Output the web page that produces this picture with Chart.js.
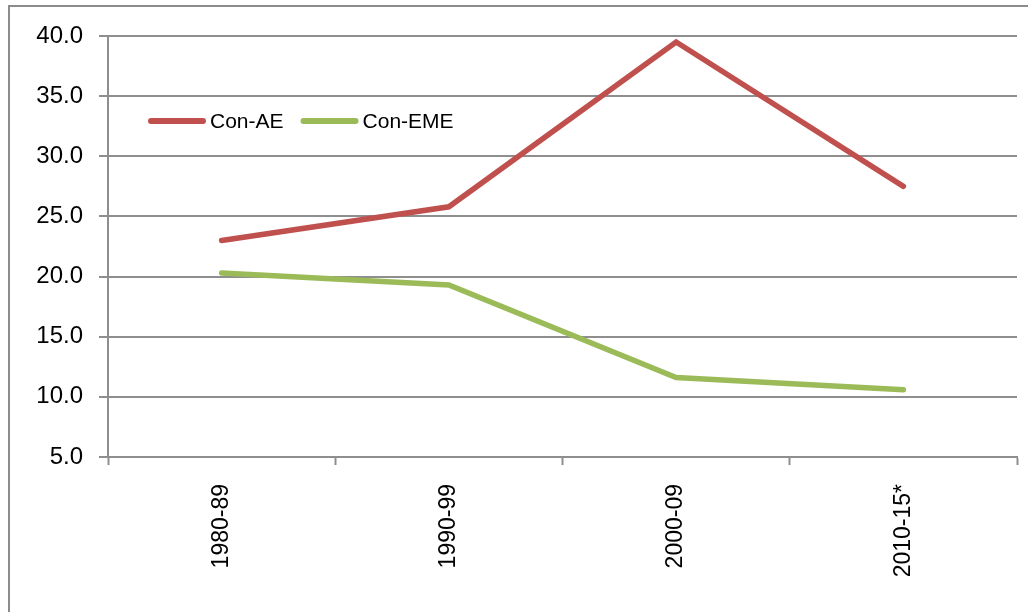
<!DOCTYPE html>
<html>
<head>
<meta charset="utf-8">
<script src="https://cdn.jsdelivr.net/npm/chart.js@4/dist/chart.umd.min.js"></script>
<style>
  html, body { margin: 0; padding: 0; background: #fff; }
  #wrap { width: 1028px; height: 612px; position: relative; }
</style>
</head>
<body>
<div id="wrap"><canvas id="periodChart"></canvas></div>
<script>
const periods = ['1980-89', '1990-99', '2000-09', '2010-15*'];
const conAE = [23.0, 25.8, 39.5, 27.5];
const conEME = [20.3, 19.3, 11.6, 10.6];
const yTicks = [5, 40, 5]; // min, max, step

const gridGray = '#8e8e8e';
const fontFamily = '"Liberation Sans", Arial, sans-serif';

// outer frame, top and left only (the rest is cut off)
const framePlugin = {
    id: 'frame',
    afterDraw(chart) {
        const ctx = chart.ctx;
        ctx.save();
        ctx.strokeStyle = '#8c8c8c';
        ctx.lineWidth = 2;
        ctx.beginPath();
        ctx.moveTo(9, 612);
        ctx.lineTo(9, 6);
        ctx.lineTo(1028, 6);
        ctx.stroke();
        ctx.restore();
    }
};

// legend drawn inside the plot, top-left
const insideLegend = {
    id: 'insideLegend',
    afterDatasetsDraw(chart) {
        const ctx = chart.ctx;
        const area = chart.chartArea;
        let x = area.left + 40;
        const y = area.top + 85;
        ctx.save();
        ctx.font = '21px ' + fontFamily;
        ctx.textBaseline = 'middle';
        chart.data.datasets.forEach(ds => {
            ctx.strokeStyle = ds.borderColor;
            ctx.lineWidth = 6;
            ctx.lineCap = 'round';
            ctx.beginPath();
            ctx.moveTo(x + 3, y);
            ctx.lineTo(x + 55, y);
            ctx.stroke();
            ctx.fillStyle = '#000';
            ctx.fillText(ds.label, x + 62, y + 1);
            x += 62 + ctx.measureText(ds.label).width + 17;
        });
        ctx.restore();
    }
};

const ctx = document.getElementById('periodChart').getContext('2d');
new Chart(ctx, {
    type: 'line',
    data: {
        labels: periods,
        datasets: [{
            label: 'Con-AE',
            data: conAE,
            borderColor: '#c0504d',
            borderWidth: 5.5,
            borderCapStyle: 'round',
            borderJoinStyle: 'miter',
            pointRadius: 0,
            tension: 0
        }, {
            label: 'Con-EME',
            data: conEME,
            borderColor: '#9bbb59',
            borderWidth: 5.5,
            borderCapStyle: 'round',
            borderJoinStyle: 'miter',
            pointRadius: 0,
            tension: 0
        }]
    },
    options: {
        responsive: true,
        maintainAspectRatio: false,
        animation: false,
        layout: {
            padding: { top: 36, right: 11, left: 0, bottom: 0 }
        },
        plugins: {
            legend: { display: false },
            tooltip: { enabled: false }
        },
        scales: {
            x: {
                offset: true,
                afterFit: function (scale) { scale.height = 155; },
                grid: {
                    offset: true,
                    drawOnChartArea: false,
                    drawTicks: true,
                    tickLength: 8,
                    tickWidth: 2,
                    tickColor: gridGray
                },
                border: { display: true, color: gridGray, width: 2 },
                ticks: {
                    minRotation: 90,
                    maxRotation: 90,
                    padding: 19,
                    color: '#000',
                    font: { family: fontFamily, size: 23 }
                }
            },
            y: {
                min: yTicks[0],
                max: yTicks[1],
                afterFit: function (scale) { scale.width = 108; },
                grid: {
                    color: gridGray,
                    lineWidth: 2,
                    drawTicks: true,
                    tickLength: 9,
                    tickColor: gridGray
                },
                border: { display: true, color: gridGray, width: 2 },
                ticks: {
                    stepSize: yTicks[2],
                    padding: 16,
                    color: '#000',
                    font: { family: fontFamily, size: 24 },
                    callback: v => v.toFixed(1)
                }
            }
        }
    },
    plugins: [framePlugin, insideLegend]
});
</script>
</body>
</html>
